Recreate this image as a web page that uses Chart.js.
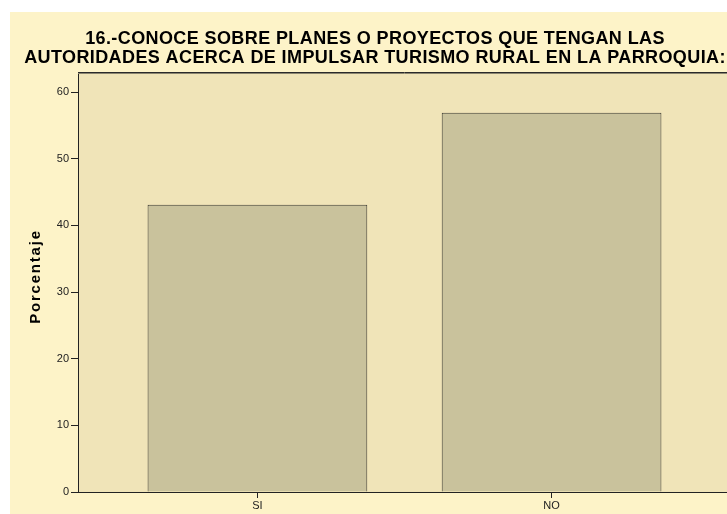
<!DOCTYPE html>
<html>
<head>
<meta charset="utf-8">
<script src="https://cdn.jsdelivr.net/npm/chart.js@4/dist/chart.umd.min.js"></script>
<style>
  html, body { margin: 0; padding: 0; background: #fff; overflow: hidden; }
  #wrap { position: absolute; left: 10px; top: 12px; width: 730px; height: 502px; background: #FDF3C8; }
</style>
</head>
<body>
<div id="wrap"><canvas id="chart"></canvas></div>
<script>
const categories = ['SI', 'NO'];
const porcentajes = [43.1, 56.9];
const titleLines = [
    '16.-CONOCE SOBRE PLANES O PROYECTOS QUE TENGAN LAS',
    'AUTORIDADES ACERCA DE IMPULSAR TURISMO RURAL EN LA PARROQUIA:'
];
const yTitle = 'Porcentaje';

// plot background, top frame line, and the wide-spaced texts (title + y title)
const plotFrame = {
    id: 'plotFrame',
    beforeDraw(chart) {
        const { ctx, chartArea: a } = chart;
        ctx.save();
        ctx.fillStyle = '#F0E4B8';
        ctx.fillRect(a.left, a.top, a.right - a.left, a.bottom - a.top);
        ctx.restore();
    },
    afterDraw(chart) {
        const { ctx, chartArea: a } = chart;
        ctx.save();
        ctx.lineWidth = 1;
        ctx.strokeStyle = '#8a8570';
        ctx.beginPath();
        ctx.moveTo(a.left, a.top + 1.5);
        ctx.lineTo(a.right, a.top + 1.5);
        ctx.stroke();
        ctx.strokeStyle = '#2a2a2a';
        ctx.beginPath();
        ctx.moveTo(a.left, a.top + 0.5);
        ctx.lineTo(a.right, a.top + 0.5);
        ctx.stroke();

        // title
        ctx.fillStyle = '#000';
        ctx.font = 'bold 18px Arial, "Liberation Sans"';
        ctx.letterSpacing = '0.4px';
        ctx.textAlign = 'center';
        ctx.textBaseline = 'alphabetic';
        ctx.fillText(titleLines[0], 365, 32);
        ctx.fillText(titleLines[1], 365, 50.5);

        // y axis title
        ctx.font = 'bold 15px Arial, "Liberation Sans"';
        ctx.letterSpacing = '1.8px';
        ctx.translate(29.5, 264.5);
        ctx.rotate(-Math.PI / 2);
        ctx.fillText(yTitle, 0, 0);
        ctx.restore();
    }
};

const ctx = document.getElementById('chart').getContext('2d');
new Chart(ctx, {
    type: 'bar',
    data: {
        datasets: [{
            label: yTitle,
            data: categories.map((c, i) => ({ x: i, y: porcentajes[i] })),
            backgroundColor: '#C9C29C',
            borderColor: '#3d3c34',
            borderWidth: 1,
            barPercentage: 0.747,
            categoryPercentage: 1
        }]
    },
    options: {
        responsive: true,
        maintainAspectRatio: false,
        animation: false,
        layout: { padding: { left: 0, right: 9, top: 60, bottom: 0 } },
        plugins: {
            legend: { display: false },
            tooltip: { enabled: false },
            title: { display: false }
        },
        scales: {
            x: {
                type: 'linear',
                offset: false,
                min: -0.61,
                max: 1.61,
                afterFit: s => { s.height = 22; },
                border: { color: '#222', width: 1 },
                grid: { display: true, offset: false, drawOnChartArea: false, tickLength: 6, color: '#222' },
                ticks: {
                    stepSize: 1,
                    includeBounds: false,
                    padding: 1,
                    color: '#222',
                    font: { family: 'Arial, "Liberation Sans"', size: 11 },
                    callback: v => categories[v] ?? ''
                }
            },
            y: {
                min: 0,
                max: 63,
                afterFit: s => { s.width = 68; },
                border: { color: '#222', width: 1 },
                grid: { display: true, drawOnChartArea: false, tickLength: 7, color: '#222' },
                ticks: {
                    stepSize: 10,
                    includeBounds: false,
                    padding: 2,
                    color: '#222',
                    font: { family: 'Arial, "Liberation Sans"', size: 11 }
                }
            }
        }
    },
    plugins: [plotFrame]
});
</script>
</body>
</html>
